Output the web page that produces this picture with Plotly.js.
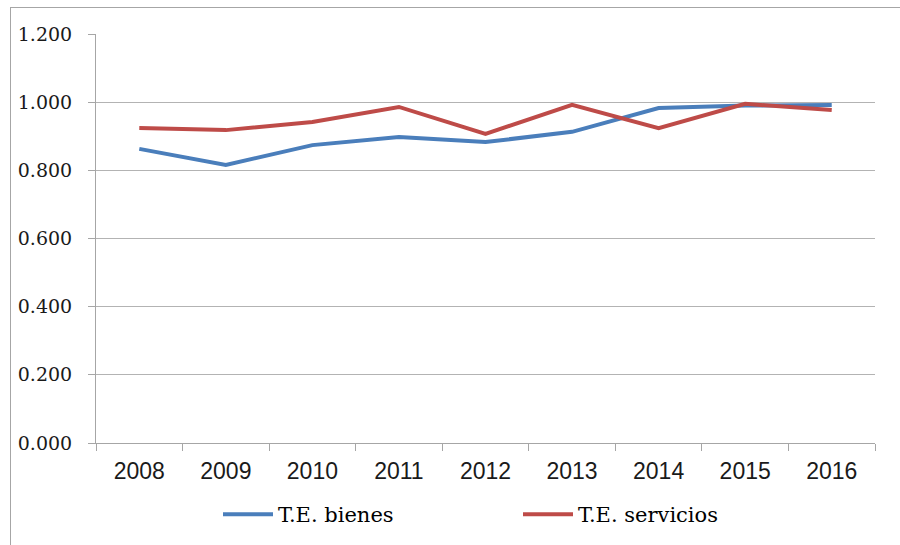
<!DOCTYPE html>
<html><head><meta charset="utf-8">
<script src="https://cdn.plot.ly/plotly-3.0.1.min.js"></script>
<style>
body{margin:0;padding:0;background:#fff;}
#wrap{position:relative;width:900px;height:545px;}
#chart{width:900px;height:545px;}
#frame{position:absolute;left:10px;top:7px;width:900px;height:560px;border:1px solid #a6a6a6;pointer-events:none;}
</style></head>
<body>
<div id="wrap"><div id="chart"></div><div id="frame"></div></div>
<script>
var years = ['2008','2009','2010','2011','2012','2013','2014','2015','2016'];
var bienes = [0.863, 0.816, 0.874, 0.898, 0.883, 0.913, 0.983, 0.990, 0.992];
var servicios = [0.924, 0.918, 0.942, 0.986, 0.907, 0.992, 0.924, 0.995, 0.977];

var serif = 'DejaVu Serif';
var sans = 'Liberation Sans';

var traces = [
  {x: years, y: bienes, name: 'T.E. bienes', type: 'scatter', mode: 'lines',
   line: {color: '#4a7ebb', width: 4}, legend: 'legend'},
  {x: years, y: servicios, name: 'T.E. servicios', type: 'scatter', mode: 'lines',
   line: {color: '#be4b48', width: 4}, legend: 'legend2'}
];

function leg(xpx) {
  return {orientation: 'h', x: (xpx - 96) / 779, xanchor: 'left', xref: 'paper',
    y: -0.125, yanchor: 'top', bgcolor: 'rgba(0,0,0,0)', itemwidth: 50,
    font: {family: serif, size: 21, color: '#000'}};
}

var layout = {
  width: 900, height: 545,
  margin: {l: 96, r: 25, t: 34, b: 102, autoexpand: false},
  paper_bgcolor: '#fff', plot_bgcolor: '#fff',
  showlegend: true,
  legend: leg(218),
  legend2: leg(518),
  xaxis: {type: 'category', range: [-0.5, 8.5], showgrid: false,
    showline: true, linecolor: '#a6a6a6', linewidth: 1,
    ticks: 'outside', ticklen: 7, tickcolor: '#a6a6a6', tickson: 'boundaries',
    ticklabelstandoff: 7,
    tickfont: {family: sans, size: 23, color: '#1a1a1a'},
    fixedrange: true},
  yaxis: {range: [0, 1.2], dtick: 0.2, tick0: 0, tickformat: '.3f',
    showgrid: true, gridcolor: '#b3b3b3', gridwidth: 1,
    showline: true, linecolor: '#a6a6a6', linewidth: 1,
    ticks: 'outside', ticklen: 7, tickcolor: '#a6a6a6',
    ticklabelstandoff: 12,
    zeroline: false,
    tickfont: {family: serif, size: 19, color: '#1a1a1a'},
    fixedrange: true}
};

Plotly.newPlot('chart', traces, layout, {displayModeBar: false, staticPlot: true});
</script>
</body></html>
